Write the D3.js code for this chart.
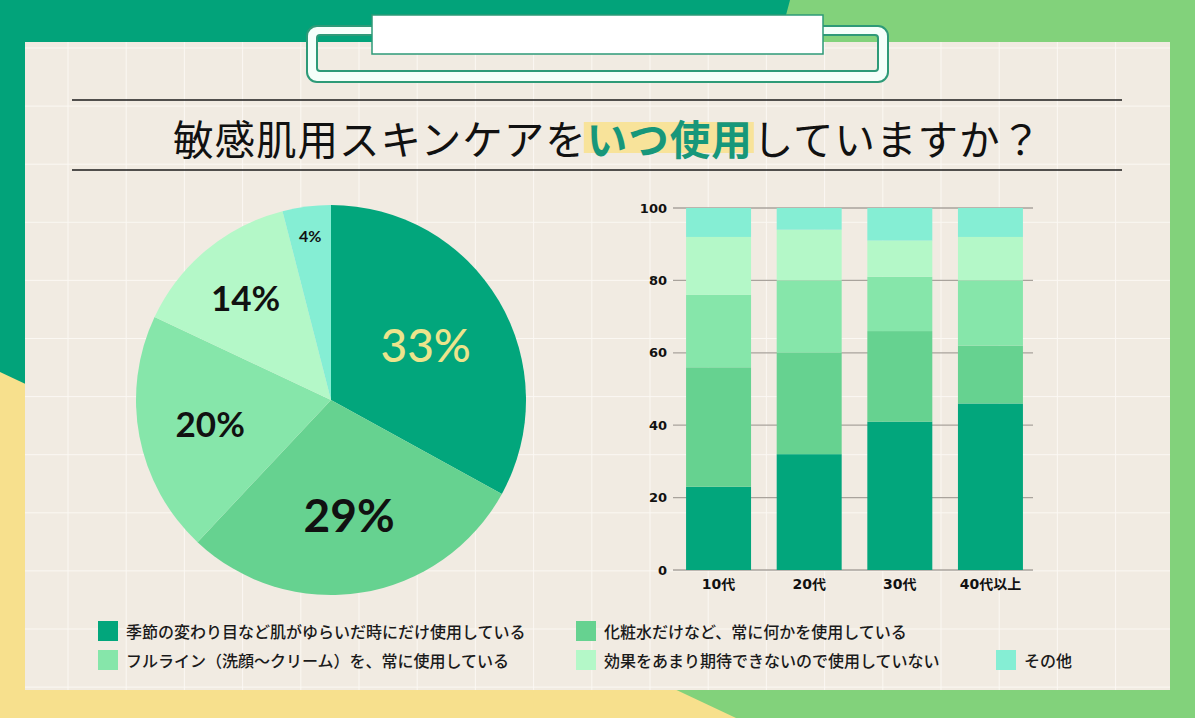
<!DOCTYPE html>
<html><head><meta charset="utf-8">
<script src="https://cdn.jsdelivr.net/npm/d3@7"></script>
<style>body{margin:0;background:#82d27b;}svg{display:block;}</style>
</head><body>
<svg id="c" width="1195" height="718"></svg>
<script>
// ---- data ----
const categories = ["季節の変わり目など肌がゆらいだ時にだけ使用している","化粧水だけなど、常に何かを使用している","フルライン（洗顔〜クリーム）を、常に使用している","効果をあまり期待できないので使用していない","その他"];
const pieValues = [33, 29, 20, 14, 4];
const ageGroups = ["10代","20代","30代","40代以上"];
const seasonal  = [23, 32, 41, 46];
const toner     = [33, 28, 25, 16];
const fullLine  = [20, 20, 15, 18];
const noEffect  = [16, 14, 10, 12];
const other     = [8, 6, 9, 8];
const yTicks = [0, 20, 40, 60, 80, 100];
const titleParts = ["敏感肌用スキンケアを","いつ使用","していますか？"];

// ---- styles ----
const colors = ["#02a67c","#66d290","#86e6aa","#b4f8c8","#85eed4"];
const pieLabelStyle = [
  {r:110,size:46,fill:"#ece48c",weight:500},
  {r:116,size:46,fill:"#111",weight:700},
  {r:123,size:35,fill:"#111",weight:700},
  {r:134,size:35,fill:"#111",weight:700},
  {r:166,size:16,fill:"#111",weight:700}
];

const svg = d3.select("#c");

// background shapes
svg.append("rect").attr("width",1195).attr("height",718).attr("fill","#82d27b");
svg.append("polygon").attr("points","0,0 790,0 600,718 0,718").attr("fill","#02a37a");
svg.append("polygon").attr("points","0,372 736,718 0,718").attr("fill","#f7e08d");

// panel
svg.append("rect").attr("x",25).attr("y",42).attr("width",1145).attr("height",648).attr("fill","#f1ebe2");
const grid = svg.append("g").attr("stroke","#fbf8f3").attr("stroke-width",1);
for (let x = 68; x < 1170; x += 58.2) grid.append("line").attr("x1",x).attr("x2",x).attr("y1",42).attr("y2",690);
for (let y = 48; y < 690; y += 58.1) grid.append("line").attr("x1",25).attr("x2",1170).attr("y1",y).attr("y2",y);

// clip
const clipPath = d3.path();
function rr(p,x,y,w,h,r){p.moveTo(x+r,y);p.lineTo(x+w-r,y);p.arcTo(x+w,y,x+w,y+r,r);p.lineTo(x+w,y+h-r);p.arcTo(x+w,y+h,x+w-r,y+h,r);p.lineTo(x+r,y+h);p.arcTo(x,y+h,x,y+h-r,r);p.lineTo(x,y+r);p.arcTo(x,y,x+r,y,r);p.closePath();}
rr(clipPath,307,26,581,56,10);
rr(clipPath,317,35,561,36,3);
svg.append("path").attr("d",clipPath.toString()).attr("fill","#f4fffa").attr("fill-rule","evenodd").attr("stroke","#2e9a78").attr("stroke-width",2);
svg.append("rect").attr("x",372).attr("y",15).attr("width",451).attr("height",39).attr("fill","#ffffff").attr("stroke","#2e9a78").attr("stroke-width",1.5);

// title
svg.append("line").attr("x1",72).attr("x2",1122).attr("y1",100).attr("y2",100).attr("stroke","#1a1a1a").attr("stroke-width",1.5);
svg.append("line").attr("x1",72).attr("x2",1122).attr("y1",170).attr("y2",170).attr("stroke","#1a1a1a").attr("stroke-width",1.5);
const tg = svg.append("g");
const hl = tg.append("rect").attr("fill","#f8e39a");
let tx = 173;
const tstyles = [{fill:"#111",weight:400},{fill:"#17977a",weight:700},{fill:"#111",weight:400}];
titleParts.forEach((t,i)=>{
  const el = tg.append("text").attr("x",tx).attr("y",137).attr("dominant-baseline","central")
    .attr("font-family","'Noto Sans CJK JP'").attr("font-size",40.5).attr("letter-spacing",1)
    .attr("font-weight",tstyles[i].weight)
    .attr("fill",tstyles[i].fill).text(t);
  const w = el.node().getComputedTextLength();
  if (i===1) hl.attr("x",tx-3).attr("y",122).attr("width",w+4).attr("height",31);
  tx += w;
});

// pie
const pieG = svg.append("g").attr("transform","translate(331,400)");
const R = 195;
const arcs = d3.pie().sort(null).value(d=>d)(pieValues);
const arcGen = d3.arc().innerRadius(0).outerRadius(R);
pieG.selectAll("path").data(arcs).join("path").attr("d",arcGen).attr("fill",(d,i)=>colors[i]);
pieG.selectAll("text").data(arcs).join("text")
  .attr("transform",(d,i)=>{const a=(d.startAngle+d.endAngle)/2, r=pieLabelStyle[i].r; return `translate(${Math.sin(a)*r},${-Math.cos(a)*r})`;})
  .attr("text-anchor","middle").attr("dominant-baseline","central")
  .attr("font-family","Lato, 'Noto Sans'").attr("font-size",(d,i)=>pieLabelStyle[i].size)
  .attr("font-weight",(d,i)=>pieLabelStyle[i].weight).attr("fill",(d,i)=>pieLabelStyle[i].fill)
  .text(d=>d.data+"%");

// bars
const series = [seasonal, toner, fullLine, noEffect, other];
const table = ageGroups.map((g,j)=>{const o={group:g}; series.forEach((s,k)=>o["s"+k]=s[j]); return o;});
const stack = d3.stack().keys(series.map((s,k)=>"s"+k))(table);
const x = d3.scaleBand().domain(ageGroups).range([677,1032]).paddingInner(0.283).paddingOuter(0.1);
const y = d3.scaleLinear().domain([0,100]).range([570,208]);
const bg = svg.append("g");
bg.selectAll("line.g").data(yTicks).join("line").attr("class","g")
  .attr("x1",673).attr("x2",1033).attr("y1",d=>y(d)).attr("y2",d=>y(d)).attr("stroke","#a9a39c").attr("stroke-width",1.3);
bg.selectAll("g.s").data(stack).join("g").attr("class","s").attr("fill",(d,i)=>colors[i])
  .selectAll("rect").data(d=>d).join("rect")
  .attr("x",d=>x(d.data.group)).attr("width",x.bandwidth())
  .attr("y",d=>y(d[1])).attr("height",d=>y(d[0])-y(d[1]));
const yAxis = svg.append("g").attr("transform","translate(673,0)")
  .call(d3.axisLeft(y).tickValues(yTicks).tickSize(0).tickPadding(6));
yAxis.select(".domain").remove();
yAxis.selectAll("text").attr("font-family","'DejaVu Sans'").attr("font-weight","bold").attr("font-size",13).attr("fill","#111");
const xAxis = svg.append("g").attr("transform","translate(0,570)")
  .call(d3.axisBottom(x).tickSize(0).tickPadding(9));
xAxis.select(".domain").remove();
xAxis.selectAll("text").attr("font-family","'DejaVu Sans','Noto Sans CJK JP'").attr("font-weight","bold").attr("font-size",14).attr("fill","#111");

// legend
const legPos = [[98,631],[576,631],[98,660],[576,660],[996,660]];
const lg = svg.append("g");
categories.forEach((c,i)=>{
  const [lx,ly] = legPos[i];
  lg.append("rect").attr("x",lx).attr("y",ly-10).attr("width",20).attr("height",20).attr("fill",colors[i]);
  lg.append("text").attr("x",lx+28).attr("y",ly).attr("dominant-baseline","central")
    .attr("font-family","'Noto Sans CJK JP'").attr("font-size",16).attr("font-weight",500).attr("fill","#1a1a1a").text(c);
});
</script>
</body></html>
